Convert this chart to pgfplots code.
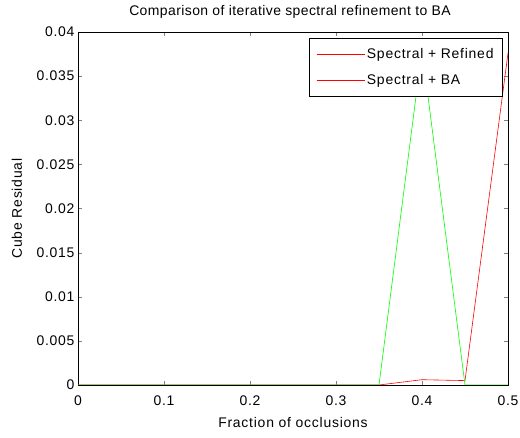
\documentclass[border=0pt]{standalone}
\usepackage{fontspec}
\setmainfont{Liberation Sans}
\newfontfamily\labfont{Liberation Sans}[LetterSpace=5.5]
\newfontfamily\titfont{Liberation Sans}[LetterSpace=3]
\usepackage{pgfplots}
\pgfplotsset{compat=1.18}
\newcommand\fs{\labfont\fontsize{14}{16}\selectfont}
\begin{document}
\begin{tikzpicture}
\useasboundingbox (0,0) rectangle (520bp,438bp);
\begin{axis}[
  at={(78bp,53bp)}, anchor=south west,
  scale only axis, width=430bp, height=353bp,
  xmin=0, xmax=0.5, ymin=0, ymax=0.04,
  xtick={0,0.1,0.2,0.3,0.4,0.5},
  ytick={0,0.005,0.01,0.015,0.02,0.025,0.03,0.035,0.04},
  scaled y ticks=false, scaled x ticks=false,
  yticklabel style={/pgf/number format/fixed,/pgf/number format/precision=3},
  xticklabel style={/pgf/number format/fixed, yshift=-7bp},
  /pgf/number format/assume math mode=true,
  tick align=inside, tick pos=both,
  major tick length=4bp,
  tick label style={font=\fs},
  title style={font=\titfont\fontsize{14}{16}\selectfont, at={(rel axis cs:0.5,1)}, anchor=center, yshift=14bp, xshift=-3bp},
  title={Comparison of iterative spectral refinement to BA},
  xlabel={Fraction of occlusions},
  ylabel={Cube Residual},
  xlabel style={font=\fs, at={(rel axis cs:0.5,0)}, anchor=center, yshift=-38bp},
  ylabel style={font=\fs, at={(rel axis cs:0,0.5)}, anchor=center, yshift=61bp},
  axis line style={black, line width=0.5pt},
  legend style={at={(rel axis cs:0.988,0.983)}, anchor=north east,
    font=\fs, line width=0.6pt,
    row sep=10bp, inner xsep=7bp, inner ysep=8.5bp},
  legend cell align=left,
  legend image code/.code={\draw[#1] (0bp,0bp) -- (48bp,0bp);},
  legend image post style={draw=red, line width=0.7pt},
]
\addlegendimage{draw=red, line width=0.7pt}
\addlegendentry{Spectral + Refined}
\addlegendimage{draw=red, line width=0.7pt}
\addlegendentry{Spectral + BA}
\addplot[red, line width=0.6pt, forget plot] coordinates {
 (0,0) (0.05,0) (0.1,0) (0.15,0) (0.2,0) (0.25,0) (0.3,0) (0.35,0)
 (0.4,0.0006) (0.45,0.0005) (0.5,0.0376)};
\addplot[green, line width=0.6pt, forget plot] coordinates {
 (0,0) (0.05,0) (0.1,0) (0.15,0) (0.2,0) (0.25,0) (0.3,0) (0.35,0)
 (0.4,0.038) (0.45,0) (0.5,0)};
\end{axis}
\end{tikzpicture}
\end{document}
